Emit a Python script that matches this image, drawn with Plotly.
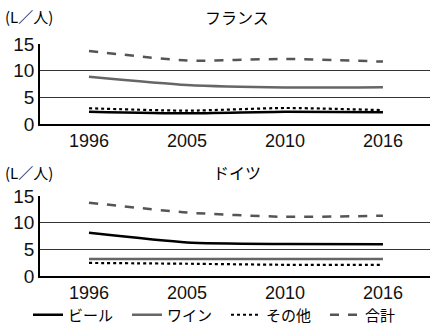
import plotly.graph_objects as go

years = ["1996", "2005", "2010", "2016"]
series_names = ["ビール", "ワイン", "その他", "合計"]

france_beer = [2.3, 2.0, 2.3, 2.2]
france_wine = [8.85, 7.3, 6.85, 6.9]
france_other = [2.95, 2.5, 3.0, 2.6]
france_total = [13.7, 11.9, 12.2, 11.7]

germany_beer = [8.1, 6.3, 6.0, 5.95]
germany_wine = [3.2, 3.2, 3.2, 3.2]
germany_other = [2.45, 2.3, 2.1, 2.1]
germany_total = [13.75, 11.9, 11.1, 11.3]

styles = {
    "ビール": dict(color="#000000", width=2.5, dash="solid"),
    "ワイン": dict(color="#666666", width=2.5, dash="solid"),
    "その他": dict(color="#000000", width=2.2, dash="dot"),
    "合計": dict(color="#555555", width=2.5, dash="dash"),
}

FONT = "Liberation Sans, Arial, Noto Sans CJK JP"
JP = "Noto Sans CJK JP"

fig = go.Figure()

panels = [
    ("x", "y", [france_beer, france_wine, france_other, france_total], True),
    ("x2", "y2", [germany_beer, germany_wine, germany_other, germany_total], False),
]
for xa, ya, vals, show in panels:
    for name, v in zip(series_names, vals):
        fig.add_trace(go.Scatter(
            x=years, y=v, name=name, mode="lines", xaxis=xa, yaxis=ya,
            line=dict(shape="spline", smoothing=0.6, **styles[name]),
            showlegend=show,
        ))

W, H = 430, 325
MB = 32
HP = H - MB


def yp(px):
    return (HP - px) / HP


xaxis_common = dict(
    type="category", range=[-0.5, 3.48], showgrid=False, zeroline=False,
    showline=True, linecolor="#000", linewidth=1.5, ticks="",
    tickfont=dict(family=FONT, size=18, color="#111"),
    domain=[40 / W, 1.0],
)
yaxis_common = dict(
    range=[0, 15], tickvals=[0, 5, 10, 15], showgrid=True, gridcolor="#333333",
    gridwidth=1, zeroline=False, showline=True, linecolor="#000", linewidth=1.5,
    ticks="", tickfont=dict(family=FONT, size=19, color="#111"),
)

fig.update_layout(
    width=W, height=H,
    margin=dict(l=0, r=0, t=0, b=MB, autoexpand=False),
    paper_bgcolor="white", plot_bgcolor="white",
    xaxis=dict(anchor="y", **xaxis_common),
    yaxis=dict(anchor="x", domain=[yp(124), yp(44)], **yaxis_common),
    xaxis2=dict(anchor="y2", **xaxis_common),
    yaxis2=dict(anchor="x2", domain=[yp(276), yp(196)], **yaxis_common),
    legend=dict(
        orientation="h", x=28 / W, y=yp(315), xanchor="left", yanchor="middle",
        font=dict(family=JP, size=15, color="#000"),
        entrywidth=54, entrywidthmode="pixels",
        tracegroupgap=0, bgcolor="rgba(0,0,0,0)",
    ),
    showlegend=True,
)

annotations = []
for label, title, py in [("(L／人)", "フランス", 17), ("(L／人)", "ドイツ", 172)]:
    annotations.append(dict(
        text=label, x=3 / W, y=yp(py), xref="paper", yref="paper",
        xanchor="left", yanchor="middle", showarrow=False,
        font=dict(family=JP, size=15, color="#000")))
    annotations.append(dict(
        text=title, x=237 / W, y=yp(py), xref="paper", yref="paper",
        xanchor="center", yanchor="middle", showarrow=False,
        font=dict(family=JP, size=16, color="#000")))
fig.update_layout(annotations=annotations)

fig.write_html("out.html", config={"displayModeBar": False},
               post_script="document.body.style.margin='0';")
